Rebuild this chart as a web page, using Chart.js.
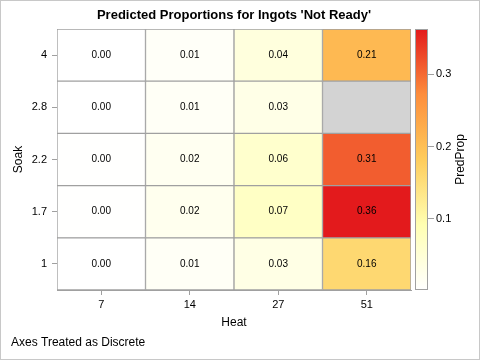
<!DOCTYPE html>
<html><head><meta charset="utf-8">
<script src="https://cdn.jsdelivr.net/npm/chart.js@4"></script>
<style>html,body{margin:0;padding:0;background:#fff}#wrap{width:480px;height:360px}</style>
</head><body><div id="wrap"><canvas id="c" width="480" height="360"></canvas></div>
<script>
// Heat categories (x) and Soak categories (y, bottom to top)
const heat = ['7', '14', '27', '51'];
const soak = ['1', '1.7', '2.2', '2.8', '4'];
// Predicted proportions per Soak row, across Heat columns (null = missing cell)
const soak1  = [0.001, 0.012, 0.031, 0.160];
const soak17 = [0.002, 0.021, 0.069, 0.363];
const soak22 = [0.002, 0.018, 0.060, 0.310];
const soak28 = [0.001, 0.011, 0.029, null];
const soak4  = [0.001, 0.009, 0.041, 0.210];
const rows = [soak1, soak17, soak22, soak28, soak4];
const cbTicks = [0.1, 0.2, 0.3];

const ramp = ['#FFFFFF', '#FFFFB2', '#FECC5C', '#FD8D3C', '#E31A1C'];
const missingColor = '#D3D3D3';
const all = rows.flat().filter(v => v != null);
const vmin = Math.min(...all), vmax = Math.max(...all);

function rgb(h) { return [1, 3, 5].map(i => parseInt(h.slice(i, i + 2), 16)); }
function colorFor(v) {
  if (v == null) return missingColor;
  let t = (v - vmin) / (vmax - vmin) * (ramp.length - 1);
  let i = Math.min(Math.floor(t), ramp.length - 2);
  const f = t - i;
  const a = rgb(ramp[i]), b = rgb(ramp[i + 1]);
  const c = a.map((x, k) => Math.round(x + (b[k] - x) * f));
  return 'rgb(' + c.join(',') + ')';
}

Chart.defaults.font.family = "'Liberation Sans', Arial, sans-serif";
Chart.defaults.color = '#000';

const datasets = rows.map((r, i) => ({
  label: 'Soak ' + soak[i],
  data: r.map(() => [i - 0.5, i + 0.5]),
  values: r,
  backgroundColor: r.map(colorFor),
  borderColor: '#A0A0A0',
  borderWidth: 1,
  borderSkipped: false,
  barPercentage: 1,
  categoryPercentage: 1,
  grouped: false
}));

const extras = {
  id: 'extras',
  afterLayout(chart) {
    const cb = chart.scales.cb;
    const dx = (chart.chartArea.right + 17) - cb.left;
    cb.left += dx; cb.right += dx;
  },
  afterDatasetsDraw(chart) {
    const ctx = chart.ctx;
    ctx.save();
    ctx.font = "10px 'Liberation Sans', Arial, sans-serif";
    ctx.fillStyle = '#000';
    ctx.textAlign = 'center';
    ctx.textBaseline = 'middle';
    chart.data.datasets.forEach((ds, di) => {
      const meta = chart.getDatasetMeta(di);
      meta.data.forEach((el, j) => {
        const v = ds.values[j];
        if (v == null) return;
        ctx.fillText(v.toFixed(2), el.x, (el.y + el.base) / 2);
      });
    });
    ctx.restore();
  },
  afterDraw(chart) {
    const ctx = chart.ctx;
    const ca = chart.chartArea;
    const cb = chart.scales.cb;
    const x0 = ca.right + 4.5, x1 = cb.left - 0.5;
    const yTop = cb.getPixelForValue(vmax), yBot = cb.getPixelForValue(vmin);
    ctx.save();
    const g = ctx.createLinearGradient(0, yBot, 0, yTop);
    ramp.forEach((c, i) => g.addColorStop(i / (ramp.length - 1), c));
    ctx.fillStyle = g;
    ctx.fillRect(x0, yTop, x1 - x0, yBot - yTop);
    ctx.strokeStyle = '#A0A0A0';
    ctx.lineWidth = 1;
    ctx.strokeRect(x0, Math.round(yTop) + 0.5, x1 - x0, Math.round(yBot - yTop) - 1);
    // colour bar title
    ctx.font = "12px 'Liberation Sans', Arial, sans-serif";
    ctx.fillStyle = '#000';
    ctx.textAlign = 'center';
    ctx.textBaseline = 'middle';
    ctx.translate(461, (ca.top + ca.bottom) / 2);
    ctx.rotate(-Math.PI / 2);
    ctx.fillText('PredProp', 0, 0);
    ctx.restore();
    // outer frame
    ctx.save();
    ctx.strokeStyle = '#C8C8C8';
    ctx.lineWidth = 1;
    ctx.strokeRect(0.5, 0.5, chart.width - 1, chart.height - 1);
    ctx.restore();
  }
};

new Chart(document.getElementById('c'), {
  type: 'bar',
  data: { labels: heat, datasets },
  options: {
    responsive: false,
    animation: false,
    devicePixelRatio: 1,
    layout: { padding: { left: 11, right: 0, top: 0, bottom: 10 } },
    plugins: {
      legend: { display: false },
      tooltip: { enabled: false },
      title: {
        display: true, text: "Predicted Proportions for Ingots 'Not Ready'",
        fullSize: false, color: '#000',
        font: { size: 13, weight: 'bold' },
        padding: { top: 8, bottom: 5.4 }
      },
      subtitle: {
        display: true, position: 'bottom', align: 'start',
        text: 'Axes Treated as Discrete', color: '#000',
        font: { size: 12, weight: 'normal' },
        padding: { top: 6, bottom: 0 }
      }
    },
    scales: {
      x: {
        type: 'category', offset: true,
        grid: { drawOnChartArea: false, offset: false, tickLength: 5, color: '#A0A0A0' },
        border: { display: true, color: '#A0A0A0' },
        ticks: { font: { size: 11 }, padding: 3, color: '#000' },
        title: { display: true, text: 'Heat', font: { size: 12 }, padding: { top: 0, bottom: 0 }, color: '#000' },
        afterFit: s => { s.height = 39.6; }
      },
      y: {
        type: 'linear', min: -0.5, max: 4.5,
        afterBuildTicks: s => { s.ticks = soak.map((_, i) => ({ value: i })); },
        grid: { drawOnChartArea: false, tickLength: 5, color: '#A0A0A0' },
        border: { display: true, color: '#A0A0A0' },
        ticks: { font: { size: 11 }, padding: 5, color: '#000', callback: v => soak[v] },
        title: { display: true, text: 'Soak', font: { size: 12 }, padding: { top: 0, bottom: 0 }, color: '#000' },
        afterFit: s => { s.width = 46; }
      },
      cb: {
        type: 'linear', axis: 'y', position: 'right', min: vmin, max: vmax,
        afterBuildTicks: s => { s.ticks = cbTicks.map(v => ({ value: v })); },
        grid: { drawOnChartArea: false, tickLength: 6, color: '#A0A0A0' },
        border: { display: false },
        ticks: { font: { size: 11 }, padding: 2, color: '#000', callback: v => v.toFixed(1) },
        afterFit: s => { s.width = 69; }
      }
    }
  },
  plugins: [extras]
});
</script>
</body></html>
